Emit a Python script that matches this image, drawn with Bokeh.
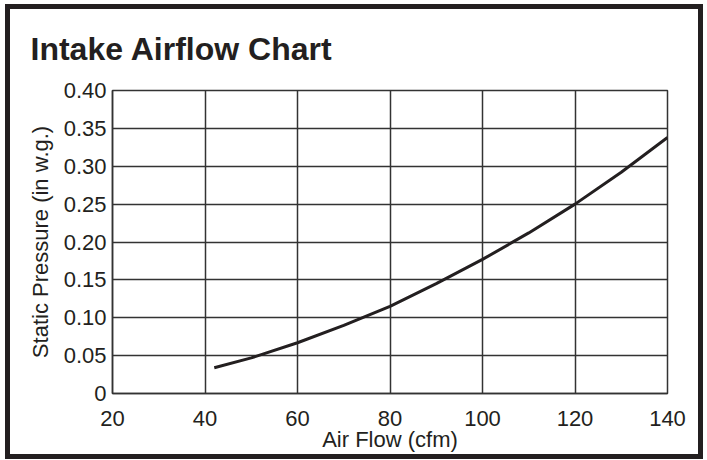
from bokeh.plotting import figure
from bokeh.layouts import column
from bokeh.models import Range1d, FixedTicker, NumeralTickFormatter
from bokeh.embed import file_html
from bokeh.resources import INLINE

# Data
air_flow = [42, 50, 60, 70, 80, 90, 100, 110, 120, 130, 140]
static_pressure = [0.034, 0.047, 0.067, 0.090, 0.115, 0.145, 0.177, 0.212, 0.250, 0.292, 0.338]

x_ticks = [20, 40, 60, 80, 100, 120, 140]
y_ticks = [0, 0.05, 0.1, 0.15, 0.2, 0.25, 0.3, 0.35, 0.4]

title_text = "Intake Airflow Chart"
x_label = "Air Flow (cfm)"
y_label = "Static Pressure (in w.g.)"

INK = "#231f20"
GRID = "#333333"
FONT = "Liberation Sans"

p = figure(width=688, height=445, output_backend="svg", toolbar_location=None,
           x_range=Range1d(20, 140), y_range=Range1d(0, 0.4),
           min_border_left=102, min_border_right=31, min_border_top=81, min_border_bottom=61)

p.title.text = title_text
p.title.text_font = FONT
p.title.text_font_size = "32px"
p.title.text_font_style = "bold"
p.title.text_color = INK
p.title.align = "left"
p.title.vertical_align = "top"
p.title.offset = -82
p.title.standoff = 43

p.outline_line_color = GRID
p.outline_line_width = 1.5
p.outline_line_alpha = 1

p.xaxis.ticker = FixedTicker(ticks=x_ticks)
p.yaxis.ticker = FixedTicker(ticks=y_ticks)
p.yaxis.formatter = NumeralTickFormatter(format="0.00")
p.yaxis.major_label_overrides = {0: "0"}

for ax in (p.xaxis, p.yaxis):
    ax.axis_line_color = GRID
    ax.axis_line_width = 1.5
    ax.major_tick_line_color = None
    ax.minor_tick_line_color = None
    ax.major_tick_out = 0
    ax.major_tick_in = 0
    ax.minor_tick_out = 0
    ax.minor_tick_in = 0
    ax.major_label_text_font = FONT
    ax.major_label_text_font_size = "22px"
    ax.major_label_text_color = INK
    ax.axis_label_text_font = FONT
    ax.axis_label_text_font_size = "22px"
    ax.axis_label_text_font_style = "normal"
    ax.axis_label_text_color = INK

p.xaxis.axis_label = x_label
p.yaxis.axis_label = y_label
p.xaxis.major_label_standoff = 17
p.xaxis.axis_label_standoff = -2
p.yaxis.major_label_standoff = 6
p.yaxis.axis_label_standoff = 8

p.xgrid.ticker = FixedTicker(ticks=x_ticks)
p.ygrid.ticker = FixedTicker(ticks=y_ticks)
for g in (p.xgrid, p.ygrid):
    g.grid_line_color = GRID
    g.grid_line_width = 1.5
    g.grid_line_alpha = 1

p.line(air_flow, static_pressure, line_color=INK, line_width=3)

# Thick outer border around the whole chart
layout = column(p, styles={"border": "5px solid #231f20",
                           "margin-left": "5px", "margin-top": "4px"})

open("out.html", "w").write(file_html(layout, INLINE))
